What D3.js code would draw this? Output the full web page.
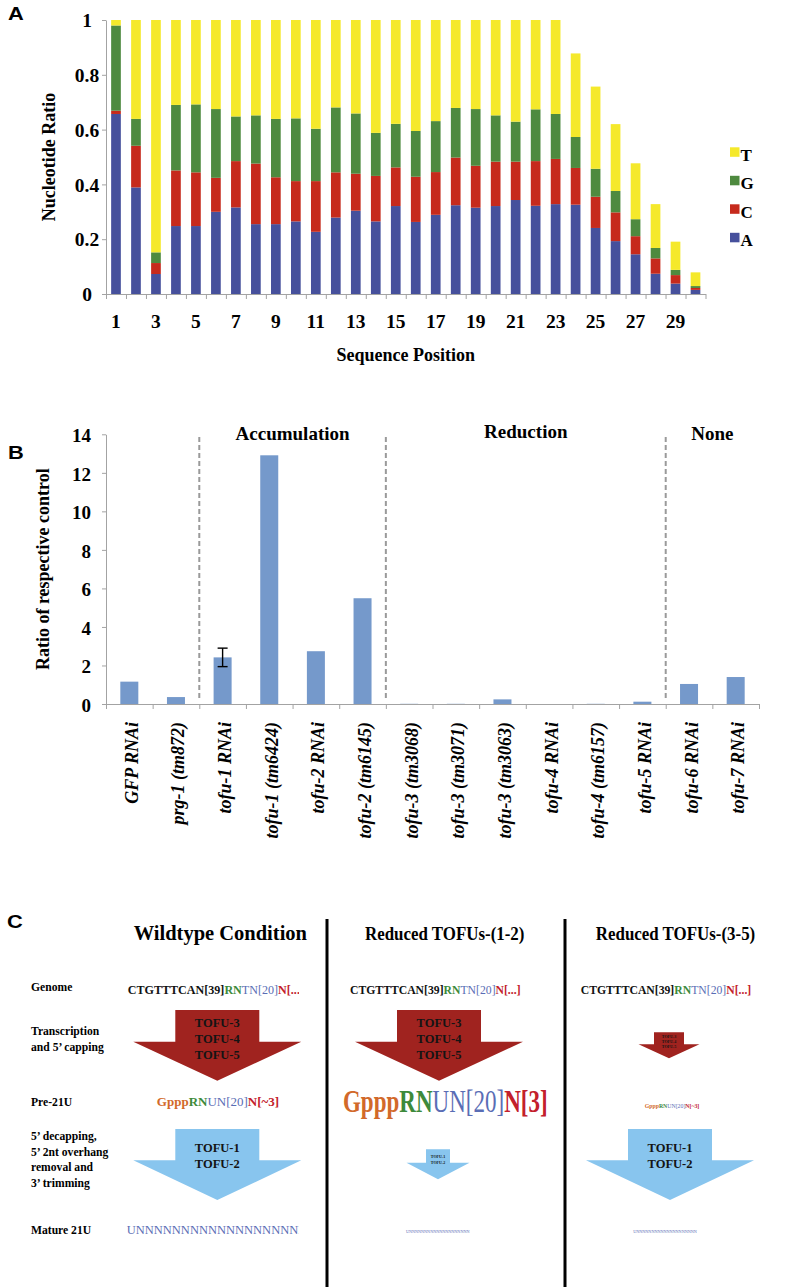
<!DOCTYPE html>
<html><head><meta charset="utf-8">
<script src="https://cdn.jsdelivr.net/npm/d3@7"></script>
<style>
body{margin:0;background:#fff;}
svg{display:block;}
</style></head>
<body><svg id="chart" width="810" height="1287"></svg>
<script>
// ================= Panel A data =================
const seqPositions = [1,2,3,4,5,6,7,8,9,10,11,12,13,14,15,16,17,18,19,20,21,22,23,24,25,26,27,28,29,30];
const seqTickLabels = [1,3,5,7,9,11,13,15,17,19,21,23,25,27,29];
const nucleotides = ["A","C","G","T"];
const fracA = [0.657,0.389,0.073,0.248,0.248,0.300,0.316,0.255,0.255,0.265,0.227,0.279,0.304,0.265,0.321,0.263,0.289,0.324,0.315,0.321,0.343,0.322,0.328,0.326,0.241,0.193,0.145,0.074,0.038,0.015];
const fracC = [0.012,0.152,0.040,0.203,0.196,0.124,0.169,0.221,0.171,0.147,0.185,0.165,0.135,0.166,0.141,0.165,0.156,0.174,0.153,0.162,0.140,0.163,0.165,0.134,0.114,0.105,0.066,0.056,0.031,0.007];
const fracG = [0.311,0.098,0.039,0.239,0.248,0.251,0.163,0.176,0.213,0.229,0.191,0.237,0.220,0.157,0.159,0.167,0.186,0.181,0.207,0.169,0.146,0.189,0.164,0.113,0.102,0.078,0.062,0.038,0.019,0.007];
const fracT = [0.020,0.361,0.848,0.310,0.308,0.325,0.352,0.348,0.361,0.359,0.397,0.319,0.341,0.412,0.379,0.405,0.369,0.321,0.325,0.348,0.371,0.326,0.343,0.305,0.300,0.244,0.204,0.160,0.103,0.050];
const nucColors = ["#46509c","#c62a1c","#4e8a3f","#f5e92b"];
const aTicks = [0,0.2,0.4,0.6,0.8,1];

// ================= Panel B data =================
const bCategories = ["GFP RNAi","prg-1 (tm872)","tofu-1 RNAi","tofu-1 (tm6424)","tofu-2 RNAi","tofu-2 (tm6145)","tofu-3 (tm3068)","tofu-3 (tm3071)","tofu-3 (tm3063)","tofu-4 RNAi","tofu-4 (tm6157)","tofu-5 RNAi","tofu-6 RNAi","tofu-7 RNAi"];
const bValues = [1.16,0.36,2.42,12.91,2.74,5.49,0.01,0.01,0.24,0.0,0.01,0.12,1.04,1.40];
const bErrors = [null,null,0.48,null,null,null,null,null,null,null,null,null,null,null];
const bGroupOf = ["control","control","Accumulation","Accumulation","Accumulation","Accumulation","Reduction","Reduction","Reduction","Reduction","Reduction","Reduction","None","None"];
const bTicks = [0,2,4,6,8,10,12,14];

// ================= Panel C data =================
const cColumns = ["Wildtype Condition","Reduced TOFUs-(1-2)","Reduced TOFUs-(3-5)"];
const cRowLabels = [["Genome"],["Transcription","and 5\u2019 capping"],["Pre-21U"],["5\u2019 decapping,","5\u2019 2nt overhang","removal  and","3\u2019 trimming"],["Mature 21U"]];
const genomeParts = ["CTGTTTCAN[39]","RN","TN[20]","N[...]"];
const pre21uParts = ["Gppp","RN","UN[20]","N[~3]"];
const pre21uPartsBig = ["Gppp","RN","UN[20]","N[3]"];
const matureSeq = "UNNNNNNNNNNNNNNNNNNNN";
const upstreamFactors = ["TOFU-3","TOFU-4","TOFU-5"];
const downstreamFactors = ["TOFU-1","TOFU-2"];

// ================= Drawing =================
const svg = d3.select("#chart");
const SERIF = "'Liberation Serif','Times New Roman',Times,serif";
const SANS = "'Liberation Sans',Arial,Helvetica,sans-serif";
const AXIS = "#a3a3a3";

function ctext(g, x, y, parts, opt) {
  const t = g.append("text")
    .attr("transform", `translate(${x},${y}) scale(${opt.sx || 1},1)`)
    .attr("font-family", opt.family || SERIF)
    .attr("font-size", opt.size)
    .attr("font-weight", opt.weight || "bold")
    .attr("text-anchor", opt.anchor || "start");
  parts.forEach(p => {
    const s = t.append("tspan").text(p.t).attr("fill", p.c || "#000");
    if (p.w) s.attr("font-weight", p.w);
  });
  return t;
}

// panel letters
ctext(svg, 8, 19.5, [{t:"A"}], {size:19, sx:1.15, family:SANS});
ctext(svg, 8, 458.5, [{t:"B"}], {size:19, sx:1.15, family:SANS});
ctext(svg, 7, 928, [{t:"C"}], {size:19, sx:1.15, family:SANS});

// ---------- Panel A ----------
const gA = svg.append("g");
const xA = d3.scaleBand().domain(seqPositions).range([106, 705.5]).paddingInner(0.515).paddingOuter(0.2575);
const xAedge = d3.scaleLinear().domain([0, seqPositions.length]).range([106, 705.5]);
const yA = d3.scaleLinear().domain([0, 1]).range([294, 20]);
const colorA = d3.scaleOrdinal().domain(nucleotides).range(nucColors);
const tableA = seqPositions.map((p, i) => ({pos: p, A: fracA[i], C: fracC[i], G: fracG[i], T: fracT[i]}));
const stackA = d3.stack().keys(nucleotides)(tableA);

gA.selectAll("g.layer").data(stackA).join("g").attr("class", "layer")
  .attr("fill", d => colorA(d.key))
  .selectAll("rect").data(d => d).join("rect")
  .attr("x", d => xA(d.data.pos)).attr("width", xA.bandwidth())
  .attr("y", d => yA(d[1])).attr("height", d => yA(d[0]) - yA(d[1]));

// y axis
const yAxA = gA.append("g").attr("transform", "translate(106,0)")
  .call(d3.axisLeft(yA).tickValues(aTicks).tickFormat(d => String(d)).tickSize(4).tickSizeOuter(0));
yAxA.attr("color", AXIS).attr("font-family", SERIF).attr("font-size", 19.5).attr("font-weight", "bold");
yAxA.selectAll("text").attr("fill", "#000").attr("x", -19).attr("text-anchor", "middle").attr("dy", "0.34em");

// x axis (boundary ticks)
const xAxA = gA.append("g").attr("transform", "translate(0,294)")
  .call(d3.axisBottom(xAedge).tickValues(d3.range(seqPositions.length + 1)).tickFormat("").tickSize(5).tickSizeOuter(0));
xAxA.attr("color", AXIS);
const xLabA = gA.append("g").attr("transform", "translate(0,294)")
  .call(d3.axisBottom(xA).tickValues(seqTickLabels).tickSize(0));
xLabA.select(".domain").remove();
xLabA.attr("font-family", SERIF).attr("font-size", 19.5).attr("font-weight", "bold");
xLabA.selectAll("text").attr("fill", "#000").attr("y", 34).attr("dy", 0);

// titles
gA.append("text").attr("transform", `translate(55,${(yA(0) + yA(1)) / 2}) rotate(-90)`)
  .attr("text-anchor", "middle").attr("font-family", SERIF).attr("font-size", 18).attr("font-weight", "bold")
  .text("Nucleotide Ratio");
gA.append("text").attr("x", (xAedge.range()[0] + xAedge.range()[1]) / 2).attr("y", 361)
  .attr("text-anchor", "middle").attr("font-family", SERIF).attr("font-size", 18).attr("font-weight", "bold")
  .text("Sequence Position");

// legend
const legItems = nucleotides.slice().reverse();
const leg = gA.append("g").selectAll("g").data(legItems).join("g")
  .attr("transform", (d, i) => `translate(730,${147.3 + i * 28.5})`);
leg.append("rect").attr("width", 9.5).attr("height", 9.5).attr("fill", d => colorA(d));
leg.append("text").attr("x", 10.5).attr("y", 13.4).attr("font-family", SERIF).attr("font-size", 17)
  .attr("font-weight", "bold").text(d => d);

// ---------- Panel B ----------
const gB = svg.append("g");
const xB = d3.scaleBand().domain(bCategories).range([106, 759]).paddingInner(0.614).paddingOuter(0.307);
const xBedge = d3.scaleLinear().domain([0, bCategories.length]).range([106, 759]);
const yB = d3.scaleLinear().domain([0, 14]).range([704, 434.3]);

gB.selectAll("rect.bar").data(bCategories).join("rect").attr("class", "bar")
  .attr("x", d => xB(d)).attr("width", xB.bandwidth())
  .attr("y", (d, i) => yB(bValues[i])).attr("height", (d, i) => yB(0) - yB(bValues[i]))
  .attr("fill", "#7599cb");

// error bars
bCategories.forEach((c, i) => {
  if (bErrors[i] == null) return;
  const cx = xB(c) + xB.bandwidth() / 2;
  const lo = yB(bValues[i] - bErrors[i]), hi = yB(bValues[i] + bErrors[i]);
  const eg = gB.append("g").attr("stroke", "#000").attr("stroke-width", 1.4);
  eg.append("line").attr("x1", cx).attr("x2", cx).attr("y1", lo).attr("y2", hi);
  eg.append("line").attr("x1", cx - 5).attr("x2", cx + 5).attr("y1", lo).attr("y2", lo);
  eg.append("line").attr("x1", cx - 5).attr("x2", cx + 5).attr("y1", hi).attr("y2", hi);
});

// axes
const yAxB = gB.append("g").attr("transform", "translate(106,0)")
  .call(d3.axisLeft(yB).tickValues(bTicks).tickSize(4).tickSizeOuter(0));
yAxB.attr("color", AXIS).attr("font-family", SERIF).attr("font-size", 19).attr("font-weight", "bold");
yAxB.selectAll("text").attr("fill", "#000").attr("x", -15).attr("dy", "0.38em");

const xAxB = gB.append("g").attr("transform", "translate(0,704)")
  .call(d3.axisBottom(xBedge).tickValues(d3.range(bCategories.length + 1)).tickFormat("").tickSize(5).tickSizeOuter(0));
xAxB.attr("color", AXIS);
const xLabB = gB.append("g").attr("transform", "translate(0,704)")
  .call(d3.axisBottom(xB).tickSize(0));
xLabB.select(".domain").remove();
xLabB.attr("font-family", SERIF).attr("font-size", 18).attr("font-weight", "bold").attr("font-style", "italic");
xLabB.selectAll("text").attr("fill", "#000").attr("transform", "rotate(-90)")
  .attr("x", -18).attr("y", 0).attr("dy", "0.47em").attr("text-anchor", "end");

gB.append("text").attr("transform", `translate(49,${(yB(0) + yB(14)) / 2}) rotate(-90)`)
  .attr("text-anchor", "middle").attr("font-family", SERIF).attr("font-size", 18).attr("font-weight", "bold")
  .text("Ratio of respective control");

// group separators & labels
const groupNames = [];
bGroupOf.forEach((g, i) => {
  if (i > 0 && g !== bGroupOf[i - 1]) {
    gB.append("line").attr("x1", xBedge(i)).attr("x2", xBedge(i)).attr("y1", 437).attr("y2", 698)
      .attr("stroke", "#9a9a9a").attr("stroke-width", 2).attr("stroke-dasharray", "5,3");
  }
  if (g !== "control" && !groupNames.includes(g)) groupNames.push(g);
});
groupNames.forEach(name => {
  const first = bGroupOf.indexOf(name), last = bGroupOf.lastIndexOf(name);
  gB.append("text").attr("x", (xBedge(first) + xBedge(last + 1)) / 2).attr("y", name === "Reduction" ? 437.5 : 440)
    .attr("text-anchor", "middle").attr("font-family", SERIF).attr("font-size", 19).attr("font-weight", "bold")
    .text(name);
});

// ---------- Panel C ----------
const gC = svg.append("g");
const GREEN = "#3d8a3b", BLUE = "#5a6db5", RED = "#c3202b", ORANGE = "#d2692a";
const REDARROW = "#a0231f", BLUEARROW = "#88c5ee";
const colCenter = d3.scaleOrdinal().domain(cColumns).range([217.3, 439, 669.5]);

// separators
[327, 565].forEach(x => gC.append("line").attr("x1", x).attr("x2", x).attr("y1", 919).attr("y2", 1287)
  .attr("stroke", "#000").attr("stroke-width", 3));

// headings
ctext(gC, colCenter(cColumns[0]) + 3, 939.5, [{t: cColumns[0]}], {size: 20.5, anchor: "middle"});
ctext(gC, 444.7, 940, [{t: cColumns[1]}], {size: 19, sx: 0.89, anchor: "middle"});
ctext(gC, 675.5, 940, [{t: cColumns[2]}], {size: 19, sx: 0.89, anchor: "middle"});

// row labels
const rowBaselines = [[990.7], [1035, 1050.6], [1106], [1140, 1155.5, 1171, 1186.5], [1234]];
cRowLabels.forEach((lines, r) => lines.forEach((ln, k) =>
  ctext(gC, 31, rowBaselines[r][k], [{t: ln}], {size: 12.5, sx: 0.93})));

// clip for first column
svg.append("defs").append("clipPath").attr("id", "col1clip").append("rect")
  .attr("x", 100).attr("y", 900).attr("width", 199).attr("height", 387);
const c1 = gC.append("g").attr("clip-path", "url(#col1clip)");

const genomeColored = [
  {t: genomeParts[0], c: "#111"}, {t: genomeParts[1], c: GREEN},
  {t: genomeParts[2], c: BLUE, w: "normal"}, {t: genomeParts[3], c: RED}];
ctext(c1, 127.7, 993.5, genomeColored, {size: 13, sx: 0.93});
ctext(gC, 350, 993.5, genomeColored, {size: 13, sx: 0.9});
ctext(gC, 580.7, 993.5, genomeColored, {size: 13, sx: 0.9});

// arrows
function arrow(g, cx, top, rw, fw, rh, th, color, labels, fs, first, step) {
  const p = d3.path();
  p.moveTo(cx - rw / 2, top); p.lineTo(cx + rw / 2, top); p.lineTo(cx + rw / 2, top + rh);
  p.lineTo(cx + fw / 2, top + rh); p.lineTo(cx, top + th); p.lineTo(cx - fw / 2, top + rh);
  p.lineTo(cx - rw / 2, top + rh); p.closePath();
  g.append("path").attr("d", p.toString()).attr("fill", color);
  labels.forEach((l, i) => ctext(g, cx, top + first + i * step, [{t: l, c: "#141414"}], {size: fs, anchor: "middle"}));
}
arrow(gC, 217.3, 1010, 84, 168, 31.7, 70.7, REDARROW, upstreamFactors, 12.5, 17.3, 15.8);
arrow(gC, 439, 1010, 84, 168, 31.7, 70.7, REDARROW, upstreamFactors, 12.5, 17.3, 15.8);
arrow(gC, 669, 1032.3, 30, 61, 12, 26, REDARROW, upstreamFactors, 4, 5.5, 5.2);

arrow(gC, 217.3, 1129, 84, 168, 31.3, 71, BLUEARROW, downstreamFactors, 12.5, 22.7, 16);
arrow(gC, 438, 1149.3, 24, 63, 13.4, 30, BLUEARROW, downstreamFactors, 4, 9, 5.6);
arrow(gC, 670, 1129, 84, 168, 31.3, 71, BLUEARROW, downstreamFactors, 12.5, 22.7, 16);

// pre-21U
const preCol = parts => [
  {t: parts[0], c: ORANGE}, {t: parts[1], c: GREEN},
  {t: parts[2], c: BLUE, w: "normal"}, {t: parts[3], c: RED}];
ctext(gC, 218, 1106, preCol(pre21uParts), {size: 13, anchor: "middle"});
ctext(gC, 445.3, 1111.7, preCol(pre21uPartsBig), {size: 32, sx: 0.72, anchor: "middle"});
ctext(gC, 672, 1107.7, preCol(pre21uParts), {size: 5.8, anchor: "middle"});

// mature 21U
ctext(c1, 126.7, 1234, [{t: matureSeq, c: BLUE}], {size: 12.5, weight: "normal"});
ctext(gC, 437.7, 1233.3, [{t: matureSeq, c: BLUE}], {size: 4.2, weight: "normal", anchor: "middle"});
ctext(gC, 665, 1233.3, [{t: matureSeq, c: BLUE}], {size: 4.2, weight: "normal", anchor: "middle"});
</script>
</body></html>
